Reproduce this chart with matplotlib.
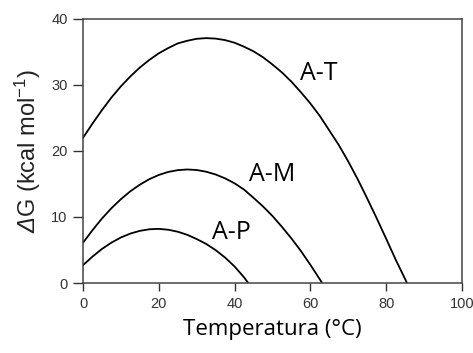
import matplotlib
matplotlib.use('Agg')
import matplotlib.pyplot as plt

plt.rcParams['font.family'] = ['Liberation Sans', 'DejaVu Sans']
# rm en cursiva para poder inclinar la Δ mayúscula
plt.rcParams['mathtext.fontset'] = 'custom'
plt.rcParams['mathtext.rm'] = 'Liberation Sans:italic'
plt.rcParams['mathtext.it'] = 'Liberation Sans:italic'
plt.rcParams['mathtext.sf'] = 'Liberation Sans'

# estabilidad (kcal/mol) frente a temperatura (°C)
temp_at = [0, 2.5, 5, 7.5, 10, 12.5, 15, 17.5, 20, 22.5, 25, 27.5, 30, 32.5,
           35, 37.5, 40, 42.5, 45, 47.5, 50, 52.5, 55, 57.5, 60, 62.5, 65,
           67.5, 70, 72.5, 75, 77.5, 80, 82.5, 85.5]
dg_at = [22.0, 24.15, 26.2, 28.1, 29.8, 31.3, 32.65, 33.8, 34.8, 35.6, 36.3,
         36.7, 37.0, 37.1, 37.03, 36.8, 36.4, 35.8, 35.1, 34.2, 33.1, 31.9,
         30.5, 28.9, 27.2, 25.3, 23.1, 20.9, 18.4, 15.7, 12.8, 9.8, 6.7, 3.55, 0.0]

temp_am = [0, 2.5, 5, 7.5, 10, 12.5, 15, 17.5, 20, 22.5, 25, 27.5, 30, 32.5,
           35, 37.5, 40, 42.5, 45, 47.5, 50, 52.5, 55, 57.5, 60, 62.5, 63.1]
dg_am = [6.1, 8.0, 9.77, 11.33, 12.7, 13.9, 14.9, 15.73, 16.37, 16.83, 17.1,
         17.2, 17.12, 16.86, 16.44, 15.85, 15.1, 14.15, 12.9, 11.6, 10.15,
         8.5, 6.75, 4.85, 2.75, 0.55, 0.0]

temp_ap = [0, 2.5, 5, 7.5, 10, 12.5, 15, 17.5, 20, 22.5, 25, 27.5, 30, 32.5,
           35, 37.5, 40, 42.5, 43.6]
dg_ap = [2.7, 4.0, 5.16, 6.12, 6.9, 7.49, 7.9, 8.14, 8.2, 8.07, 7.77, 7.3,
         6.66, 5.92, 4.98, 3.85, 2.5, 0.85, 0.0]

curvas = [('A-T', temp_at, dg_at, (62.3, 31.7)),
          ('A-M', temp_am, dg_am, (49.9, 16.5)),
          ('A-P', temp_ap, dg_ap, (39.2, 7.65))]

xticks = [0, 20, 40, 60, 80, 100]
yticks = [0, 10, 20, 30, 40]

fig = plt.figure(figsize=(4.73, 3.53), dpi=100)
ax = fig.add_axes([0.1755, 0.1983, 0.8012, 0.7479])

for nombre, t, g, pos in curvas:
    ax.plot(t, g, color='black', linewidth=1.3)
    ax.text(pos[0], pos[1], nombre, fontsize=18, family='Open Sans',
            ha='center', va='center', color='black')

ax.set_xlim(0, 100)
ax.set_ylim(0, 40)
ax.set_xticks(xticks)
ax.set_yticks(yticks)
ax.tick_params(direction='out', length=6, width=1.0, color='#333333',
               labelsize=10.5, labelcolor='#333333', pad=4)
ax.tick_params(axis='y', length=7)

for s in ax.spines.values():
    s.set_linewidth(1.1)
    s.set_color('#444444')

ax.set_xlabel('Temperatura (°C)', fontsize=16, family='Open Sans', labelpad=6)
ax.set_ylabel(r'$\mathrm{Δ}$G (kcal mol$^{\mathsf{-1}}$)', fontsize=17,
              color='#222222', labelpad=6)

plt.savefig('out.png', dpi=100)
